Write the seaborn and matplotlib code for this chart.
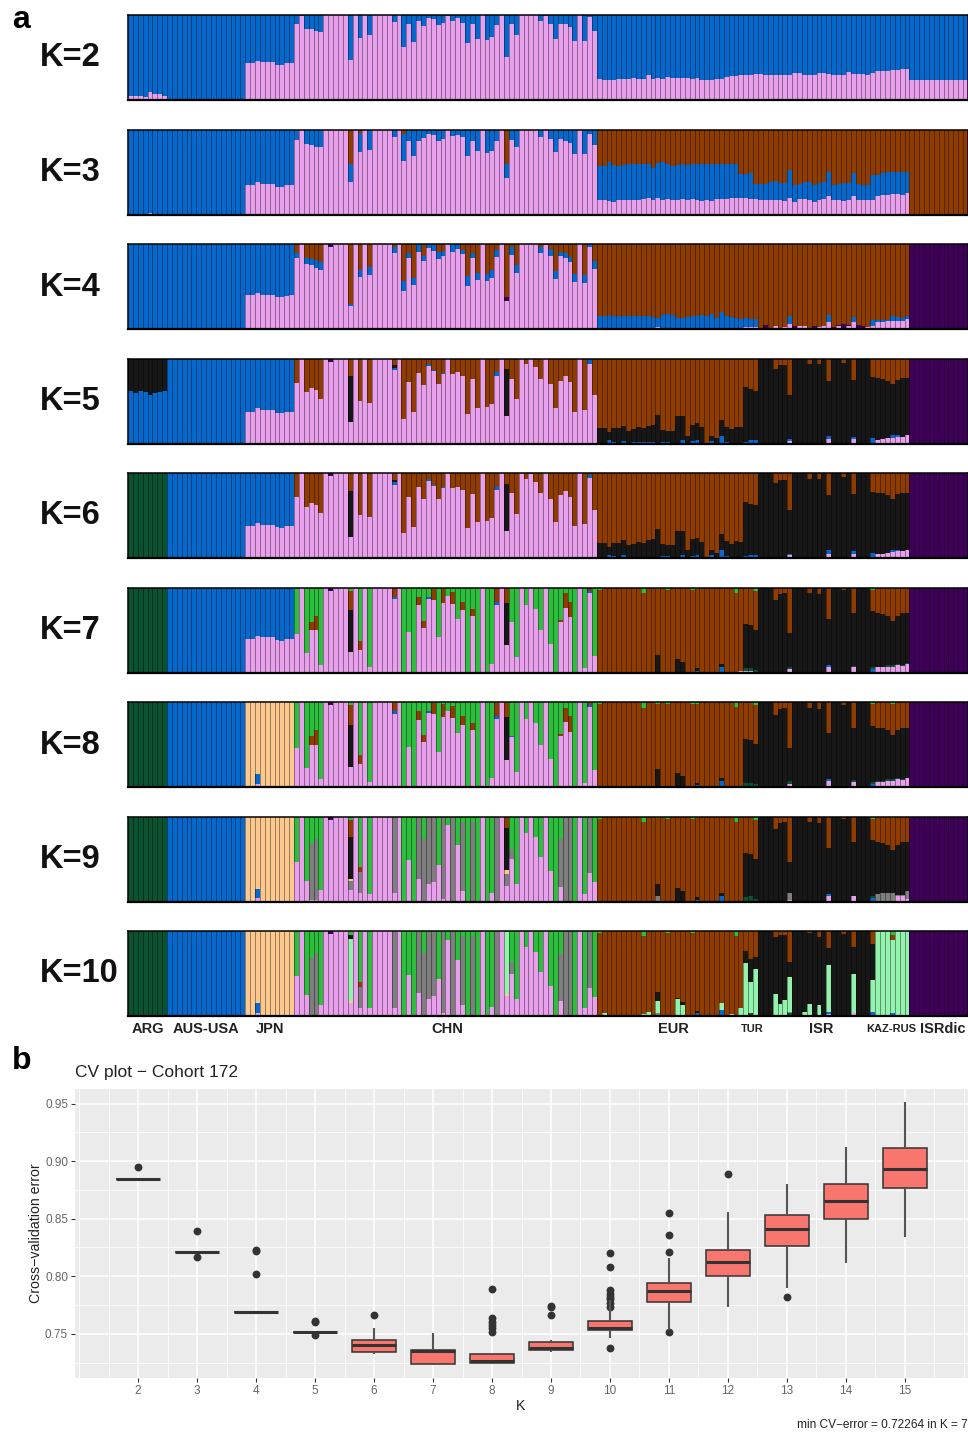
import numpy as np
import pandas as pd
import matplotlib
matplotlib.use('Agg')
import matplotlib.pyplot as plt
import seaborn as sns

plt.rcParams['font.family'] = ['Liberation Sans', 'DejaVu Sans']

W, H = 968, 1433

# stack order from the bottom of a bar to its top
clusters = ['pink', 'blue', 'dkgreen', 'gray', 'orange', 'ltgreen', 'black', 'purple', 'brown', 'green']
colors = {'pink': '#E8A0EC', 'blue': '#0468CC', 'dkgreen': '#0A5230', 'gray': '#7E7E7E',
          'orange': '#FCC88E', 'ltgreen': '#93F2AE', 'black': '#171717', 'purple': '#40005A',
          'brown': '#8F3C00', 'green': '#2CBE3C'}

group_sizes = [8, 16, 10, 62, 64, 12]
group_labels = ['ARG', 'AUS-USA', 'JPN', 'CHN', 'EUR', 'TUR', 'ISR', 'KAZ-RUS', 'ISRdic']

# every array below holds the TOP of a coloured segment in a bar.
# a dict only lists the bars where that segment shows up
k2_arg_pink = [.05, .05, .05, .04, .09, .07, .07, .05]
k2_jpn_pink = [.44, .44, .46, .45, .45, .45, .41, .41, .43, .44]
k2_chn_pink = [.90, .99, .84, .83, .81, .80, 1, 1, 1, 1,
               1, .47, 1, .73, 1, .76, 1, 1, 1, 1,
               .92, 1, .62, .89, .68, .93, .87, .97, .95, .88,
               .91, .99, .93, .97, .91, .67, .89, .72, 1, .71,
               .74, .88, 1, .51, .90, .77, 1, 1, 1, 1,
               .93, .99, .90, .72, .90, .89, .86, .70, 1, .70, .98, .81]
k2_eur_pink = [.25, .24, .24, .24, .25, .25, .25, .26, .25, .25,
               .30, .25, .26, .25, .27, .26, .26, .26, .26, .25,
               .26, .24, .24, .23, .25, .25, .27, .28, .28, .29,
               .29, .30, .31, .31, .30, .30, .29, .30, .30, .29,
               .32, .32, .29, .29, .30, .32, .32, .31, .30, .30,
               .30, .33, .31, .31, .31, .29, .32, .34, .34, .34,
               .35, .35, .36, .36]
k2_dic_pink = [.24] * 12

k3_arg_pink = {4: .02, 5: .01}
k3_jpn_pink = [.35, .35, .385, .36, .36, .36, .325, .325, .345, .35]
k3_chn_pink = [.88, 1, .83, .82, .80, .79, 1, 1, 1, 1,
               1, .385, 1, .73, 1, .76, 1, 1, 1, 1,
               .91, 1, .63, .87, .69, .86, .905, .945, .93, .86,
               .89, .99, .92, .94, .91, .69, .86, .75, 1, .72,
               .75, .87, 1, .43, .88, .79, 1, 1, 1, 1,
               .91, 1, .89, .73, .89, .87, .84, .71, 1, .71, .95, .82]
k3_chn_brown_from = {11: .60, 13: .96, 22: .95, 24: .98, 35: .99, 39: .99, 40: .98, 41: .99,
                     43: .60, 55: .99, 56: .99, 57: .99}
k3_eur_pink = [.17, .17, .16, .15, .17, .17, .17, .17, .17, .18,
               .20, .17, .19, .17, .18, .17, .17, .18, .17, .18,
               .17, .16, .17, .16, .18, .18, .18, .19, .20, .20,
               .19, .18, .18, .17, .17, .17, .17, .17, .16, .20,
               .15, .18, .18, .17, .15, .17, .18, .22, .17, .17,
               .16, .17, .22, .17, .17, .17, .17, .22, .23, .23,
               .24, .24, .23, .25]
k3_eur_blue = [.575, .575, .62, .58, .57, .585, .595, .595, .595, .595,
               .59, .55, .61, .62, .595, .57, .585, .60, .585, .595,
               .60, .60, .60, .60, .595, .595, .59, .595, .595, .48,
               .48, .49, .36, .36, .36, .38, .40, .375, .375, .52,
               .345, .36, .38, .385, .35, .375, .38, .505, .35, .36,
               .375, .375, .49, .36, .35, .35, .47, .47, .49, .50,
               .50, .50, .495, .495]

k4_jpn_pink = [.40, .40, .42, .40, .40, .40, .38, .38, .39, .40]
k4_chn_pink = [.83, 1, .76, .75, .72, .69, 1, .97, 1, 1,
               1, .27, 1, .61, 1, .64, 1, 1, 1, 1,
               .90, 1, .45, .83, .52, .91, .80, .95, .92, .82,
               .86, 1, .91, .94, .88, .51, .84, .58, 1, .565,
               .605, .85, 1, .335, .87, .66, 1, 1, 1, 1,
               .90, .99, .86, .585, .86, .84, .79, .55, 1, .545, .97, .71]
k4_chn_blue = [.89, 1, .84, .82, .81, .79, 1, .97, 1, 1,
               1, .30, 1, .69, 1, .73, 1, 1, 1, 1,
               .96, 1, .565, .89, .60, 1, .86, 1, .99, .91,
               .92, 1, 1, 1, .93, .62, .90, .66, 1, .645,
               .69, .93, 1, .335, .96, .75, 1, 1, 1, 1,
               .97, .99, .94, .68, .91, .89, .85, .65, 1, .64, 1, .80]
k4_chn_purple = {7: 1, 43: .38}
k4_eur_pink = {12: .02, 30: .02, 31: .02, 32: .02, 36: .03, 38: .02, 39: .06, 41: .03, 42: .04,
               45: .02, 46: .03, 47: .08, 49: .03, 51: .03, 52: .08, 55: .02, 56: .03, 57: .08,
               58: .08, 59: .09, 60: .10, 61: .10, 62: .10, 63: .12}
k4_eur_blue = [.15, .15, .17, .15, .15, .15, .15, .15, .15, .15,
               .15, .14, .13, .16, .18, .17, .13, .13, .14, .155,
               .155, .16, .15, .18, .13, .20, .15, .14, .13, .12,
               .13, .12, .12, 0, 0, 0, 0, 0, 0, .15,
               0, 0, 0, 0, 0, 0, 0, .16, 0, 0,
               0, 0, .14, 0, 0, 0, .11, .11, .11, .11,
               .15, .14, .13, .15]
k4_eur_purple = {34: .05, 35: .01, 40: .04, 44: .03, 48: .02, 49: .05, 50: .06, 51: .05, 53: .05, 54: .03}

k5_arg_blue = [.615, .60, .62, .61, .57, .59, .61, .615]
k5_jpn_pink = [.375, .375, .415, .39, .39, .39, .36, .355, .375, .375]
k5_chn_pink = [.715, 1, .605, .65, .625, .525, 1, .96, 1, 1,
               1, .25, 1, .505, 1, .48, 1, 1, 1, 1,
               .86, 1, .29, .72, .37, .83, .69, .91, .85, .70,
               .82, 1, .82, .84, .80, .35, .755, .42, 1, .43,
               .465, .80, 1, .32, .76, .52, 1, .93, .99, .90,
               .76, 1, .70, .42, .74, .79, .72, .375, 1, .395, .94, .57]
k5_chn_blue = {20: .89, 27: .93, 28: .86, 30: .83, 41: .84, 60: .98}
k5_chn_black = {11: .79, 20: .92, 43: .875}
k5_chn_purple = {7: 1}
k5_eur_pink = {39: .03, 47: .05, 52: .05, 57: .045, 58: .05, 59: .06, 60: .07, 61: .08, 62: .08, 63: .10}
k5_eur_blue = {2: .04, 3: .02, 5: .03, 7: .015, 8: .015, 9: .015, 10: .015, 11: .015, 13: .02, 14: .02,
               17: .04, 19: .025, 20: .04, 23: .03, 25: .09, 26: .02, 30: .02, 31: .04, 32: .04,
               39: .05, 47: .09, 52: .08, 56: .06, 60: .10, 61: .10}
k5_eur_black = [.18, .18, .13, .18, .18, .21, .15, .17, .19, .18,
                .21, .22, .34, .16, .15, .15, .32, .32, .09, .22,
                .24, .19, 0, .09, .06, .28, .20, .17, .20, .19,
                .66, .64, .62, 1, 1, 1, .88, .92, .92, .57,
                1, 1, 1, .93, 1, .93, 1, .74, 1, 1,
                .95, 1, .75, 1, 1, 1, .78, .77, .76, .74,
                .70, .75, .77, .77]

k7_jpn_pink = [.40, .40, .435, .415, .415, .415, .38, .37, .39, .40]
k7_chn_pink = [.455, 1, .225, .50, .50, .09, 1, .96, 1, 1,
               1, .24, 1, .27, 1, .06, 1, 1, 1, 1,
               .86, 1, 0, .475, 0, .79, .525, .87, .855, .415,
               .82, .90, .81, .63, .73, 0, .665, .01, 1, .01,
               .10, .80, 1, .32, .59, .18, 1, .80, 1, .75,
               .50, 1, .335, 0, .60, .76, .65, 0, 1, .05, .94, .20]
k7_chn_blue = {20: .89, 27: .89, 41: .83, 44: .60, 60: .96}
k7_chn_black = {11: .73, 43: .82}
k7_chn_brown = {3: .60, 4: .67, 11: .96, 13: .375, 20: .99, 25: .89, 26: .61, 28: .985, 30: .98,
                32: .95, 34: .83, 36: .75, 41: .99, 43: .99, 54: .62, 55: .93, 56: .83, 60: .99}
k7_eur_pink = {12: .01, 29: .015, 30: .015, 31: .015, 39: .04, 47: .07, 52: .06, 57: .06, 58: .06,
               59: .07, 60: .07, 61: .09, 62: .08, 63: .10}
k7_eur_blue = {20: .02, 25: .07, 47: .09, 56: .04}
k7_eur_dkgreen = {30: .05, 31: .05, 32: .03, 39: .07, 52: .08, 56: .06, 57: .07, 58: .07, 59: .09,
                  60: .09, 61: .10, 62: .09, 63: .11}
k7_eur_black = [0] * 12 + [.21] + [0] * 3 + [.16, .125, 0, 0, .05, 0, 0, 0, 0, .10, 0, 0, 0, 0] + [
    .565, .555, .505, 1, 1, 1, .85, .92, .93, .46,
    1, 1, 1, .93, 1, .92, 1, .63, 1, 1,
    .97, 1, .70, 1, 1, 1, .72, .70, .69, .67,
    .61, .67, .70, .70]
k7_eur_brown = [.975, 1, 1, 1, 1, 1, 1, 1, 1, .935,
                1, 1, .98, 1, .975, 1, 1, 1, 1, .975,
                .98, 1, 1, 1, 1, 1, 1, 1, .94, 1,
                1, 1, .96, 1, 1, 1, 1, 1, 1, 1,
                1, 1, 1, 1, 1, 1, 1, 1, 1, 1,
                1, 1, 1, 1, 1, 1, .975, 1, 1, 1,
                .98, 1, 1, 1]

k8_jpn_pink = {2: .04}
k8_jpn_blue = {2: .15}

k9_chn_pink = [.47, 1, .245, .015, .015, .13, 1, .96, 1, 1,
               1, .14, 1, .095, 1, .09, 1, 1, 1, 1,
               .095, 1, 0, .485, 0, .265, .01, .205, .235, .435,
               .03, .90, 0, .66, .125, 0, 0, 0, 1, 0,
               .105, 0, 1, .185, .50, .205, 1, .81, 1, .755,
               .52, 1, .355, 0, .175, 0, 0, 0, 1, .09, .335, .225]
k9_chn_gray = {3: .68, 4: .74, 11: .245, 13: .345, 20: .99, 25: .99, 26: .74, 27: .99, 28: .99, 30: .99,
               32: .99, 34: .94, 36: .94, 41: .99, 43: .325, 44: .62, 54: .73, 55: .99, 56: .99, 60: .99}
k9_chn_orange = {11: .265, 43: .365}
k9_chn_black = {11: .76, 43: .86}
k9_chn_brown = {11: .96, 13: .405, 43: .99}
k9_eur_pink = {39: .02, 47: .06, 52: .06, 61: .06, 62: .07, 63: .03}
k9_eur_dkgreen = {30: .05, 31: .06, 32: .03, 56: .07}
k9_eur_gray = {12: .06, 39: .10, 47: .09, 57: .09, 58: .10, 59: .10, 60: .10, 61: .08, 62: .08, 63: .12}

k10_chn_pink = k9_chn_pink[:11] + [.15] + k9_chn_pink[12:43] + [.23] + k9_chn_pink[44:]
k10_chn_gray = {3: .68, 4: .74, 13: .345, 20: .99, 25: .99, 26: .74, 27: .99, 28: .99, 30: .99,
                32: .99, 34: .94, 36: .94, 41: .99, 44: .63, 54: .73, 55: .99, 56: .99, 60: .99}
k10_chn_orange = {11: .18, 43: .26}
k10_chn_ltgreen = {11: .91, 43: .985}
k10_chn_black = {11: .95}
k10_chn_brown = {13: .405}
k10_eur_pink = {47: .02, 52: .03}
k10_eur_blue = {20: .03, 25: .07, 47: .05, 56: .05, 60: .04}
k10_eur_dkgreen = {31: .04, 39: .03}
k10_eur_gray = {12: .03, 39: .05}
k10_eur_ltgreen = {1: .03, 9: .025, 10: .05, 12: .18, 16: .20, 17: .13, 25: .15, 27: .02, 29: .09, 30: .62,
                   31: .405, 32: .55, 36: .26, 37: .14, 38: .19, 39: .46, 42: .05, 43: .14, 45: .13,
                   47: .60, 52: .50, 56: .42, 57: 1, 58: 1, 59: 1, 60: .89, 61: 1, 62: 1, 63: 1}
k10_eur_black = [0] * 12 + [.28] + [0] * 3 + [.21, .17, 0, 0, .06] + [0] * 9 + [
    .77, .665, .69, 1, 1, 1, .93, .95, .95, .63,
    1, 1, 1, .98, 1, .93, 1, .80, 1, 1,
    .97, 1, .81, 1, 1, 1, .845, 0, 0, 0,
    0, 0, 0, 0]
k10_eur_brown = [.98, 1, 1, 1, 1, 1, 1, 1, 1, .94,
                 1, 1, 1, 1, .98, 1, 1, 1, 1, .98,
                 1, 1, 1, 1, 1, 1, 1, 1, .94, 1,
                 1, 1, 1, 1, 1, 1, 1, 1, 1, 1,
                 1, 1, 1, 1, 1, 1, 1, 1, 1, 1,
                 1, 1, 1, 1, 1, 1, 1, 1, 1, 1,
                 .95, 1, 1, 1]

# panel b
cv_k = [2, 3, 4, 5, 6, 7, 8, 9, 10, 11, 12, 13, 14, 15]
cv_low = [.8845, .8213, .7688, .752, .7326, .723, .724, .7345, .746, .7535, .773, .790, .8115, .834]
cv_q1 = [.8845, .8213, .7688, .752, .734, .724, .725, .736, .7535, .778, .800, .826, .850, .8767]
cv_median = [.8845, .8213, .7688, .752, .7407, .735, .7265, .7375, .755, .787, .812, .841, .865, .8935]
cv_q3 = [.8845, .8213, .7688, .752, .7445, .736, .7326, .743, .761, .794, .823, .853, .880, .911]
cv_high = [.8845, .8213, .7688, .752, .755, .751, .7326, .745, .7796, .816, .8555, .880, .912, .951]
flier_k = [2, 3, 3, 4, 4, 4, 5, 5, 5, 6, 8, 8, 8, 8, 8, 8, 9, 9, 9,
           10, 10, 10, 10, 10, 10, 10, 10, 10, 11, 11, 11, 11, 12, 13]
flier_cv = [.895, .839, .8167, .823, .822, .8016, .7616, .760, .7486, .766, .789, .7636, .7607, .758, .755, .752,
            .774, .7735, .766, .820, .808, .788, .785, .782, .780, .777, .773, .738, .855, .836, .821, .752, .889, .782]
cv_y_ticks = [.75, .80, .85, .90, .95]


def segment_shares(n, layers):
    # turns the segment tops of one group into one share per bar and cluster
    current = np.zeros(n)
    out = {}
    for cluster, tops in layers:
        new = current.copy()
        if isinstance(tops, dict):
            for i, v in tops.items():
                new[i] = max(new[i], v)
        else:
            new = np.maximum(current, np.broadcast_to(np.array(tops, dtype=float), (n,)))
        out[cluster] = new - current
        current = new
    return out


def panel_frame(groups):
    rows = []
    start = 0
    for n, layers in zip(group_sizes, groups):
        for cluster, share in segment_shares(n, layers).items():
            rows.append(pd.DataFrame({'sample': start + np.arange(n), 'cluster': cluster, 'share': share}))
        start += n
    df = pd.concat(rows)
    return df[df['share'] > 0]


def px_axes(fig, left, top, right, bottom):
    return fig.add_axes([left / W, 1 - bottom / H, (right - left) / W, (bottom - top) / H])


def px_text(fig, x, y, s, **kw):
    kw.setdefault('va', 'center')
    fig.text(x / W, 1 - y / H, s, **kw)


aus = [('blue', 1)]
panels = {
    2: [[('pink', k2_arg_pink), ('blue', 1)], aus, [('pink', k2_jpn_pink), ('blue', 1)],
        [('pink', k2_chn_pink), ('blue', 1)], [('pink', k2_eur_pink), ('blue', 1)],
        [('pink', k2_dic_pink), ('blue', 1)]],
    3: [[('pink', k3_arg_pink), ('blue', 1)], aus, [('pink', k3_jpn_pink), ('blue', 1)],
        [('pink', k3_chn_pink),
         ('blue', [k3_chn_brown_from.get(i, 1) for i in range(62)]), ('brown', 1)],
        [('pink', k3_eur_pink), ('blue', k3_eur_blue), ('brown', 1)], [('brown', 1)]],
    4: [aus, aus, [('pink', k4_jpn_pink), ('blue', 1)],
        [('pink', k4_chn_pink), ('blue', k4_chn_blue), ('purple', k4_chn_purple), ('brown', 1)],
        [('pink', k4_eur_pink), ('blue', k4_eur_blue), ('purple', k4_eur_purple), ('brown', 1)],
        [('purple', 1)]],
    5: [[('blue', k5_arg_blue), ('black', 1)], aus, [('pink', k5_jpn_pink), ('blue', 1)],
        [('pink', k5_chn_pink), ('blue', k5_chn_blue), ('black', k5_chn_black),
         ('purple', k5_chn_purple), ('brown', 1)],
        [('pink', k5_eur_pink), ('blue', k5_eur_blue), ('black', k5_eur_black), ('brown', 1)],
        [('purple', 1)]],
}
panels[6] = [[('dkgreen', 1)]] + panels[5][1:]
chn7 = [('pink', k7_chn_pink), ('blue', k7_chn_blue), ('black', k7_chn_black), ('purple', k5_chn_purple),
        ('brown', k7_chn_brown), ('green', 1)]
eur7 = [('pink', k7_eur_pink), ('blue', k7_eur_blue), ('dkgreen', k7_eur_dkgreen), ('black', k7_eur_black),
        ('brown', k7_eur_brown), ('green', 1)]
jpn8 = [('pink', k8_jpn_pink), ('blue', k8_jpn_blue), ('orange', 1)]
panels[7] = [[('dkgreen', 1)], aus, [('pink', k7_jpn_pink), ('blue', 1)], chn7, eur7, [('purple', 1)]]
panels[8] = [[('dkgreen', 1)], aus, jpn8, chn7, eur7, [('purple', 1)]]
panels[9] = [[('dkgreen', 1)], aus, jpn8,
             [('pink', k9_chn_pink), ('gray', k9_chn_gray), ('orange', k9_chn_orange), ('black', k9_chn_black),
              ('purple', k5_chn_purple), ('brown', k9_chn_brown), ('green', 1)],
             [('pink', k9_eur_pink), ('blue', k7_eur_blue), ('dkgreen', k9_eur_dkgreen), ('gray', k9_eur_gray),
              ('black', k7_eur_black), ('brown', k7_eur_brown), ('green', 1)],
             [('purple', 1)]]
panels[10] = [[('dkgreen', 1)], aus, jpn8,
              [('pink', k10_chn_pink), ('gray', k10_chn_gray), ('orange', k10_chn_orange),
               ('ltgreen', k10_chn_ltgreen), ('black', k10_chn_black), ('purple', k5_chn_purple),
               ('brown', k10_chn_brown), ('green', 1)],
              [('pink', k10_eur_pink), ('blue', k10_eur_blue), ('dkgreen', k10_eur_dkgreen), ('gray', k10_eur_gray),
               ('ltgreen', k10_eur_ltgreen), ('black', k10_eur_black), ('brown', k10_eur_brown), ('green', 1)],
              [('purple', 1)]]

fig = plt.figure(figsize=(W / 100, H / 100), dpi=100)

panel_tops = [15, 129.5, 244, 358.5, 473, 587.5, 702, 816.5, 931]
n_samples = sum(group_sizes)
for (k, groups), top in zip(panels.items(), panel_tops):
    ax = px_axes(fig, 128, top, 968, top + 85)
    df = panel_frame(groups)
    present = [c for c in clusters if c in set(df['cluster'])]
    sns.histplot(data=df, x='sample', weights='share', hue='cluster', hue_order=present[::-1],
                 multiple='stack', discrete=True, shrink=1, palette=colors, linewidth=0,
                 alpha=1, legend=False, ax=ax)
    ax.vlines(np.arange(n_samples - 1) + .5, 0, 1, color='black', alpha=.45, lw=.6)
    ax.set_xlim(-.5, n_samples - .5)
    ax.set_ylim(0, 1)
    ax.set_xticks([])
    ax.set_yticks([])
    ax.set_xlabel('')
    ax.set_ylabel('')
    for side in ax.spines:
        ax.spines[side].set_linewidth(1.1)
    ax.spines['bottom'].set_linewidth(1.6)
    px_text(fig, 40, top + 43, f'K={k}', fontsize=23.5, fontweight='bold', color='#111111')

label_x = [148, 206, 270, 447, 673, 752, 821, 891, 943]
label_size = [10.5, 10.5, 10.5, 10.5, 10.5, 8, 10.5, 8, 10.5]
for s, x, size in zip(group_labels, label_x, label_size):
    px_text(fig, x, 1029, s, ha='center', fontsize=size, fontweight='bold', color='#222222')

px_text(fig, 12, 20, 'a', fontsize=23, fontweight='bold', color='black', ha='left')
px_text(fig, 12, 1061, 'b', fontsize=23, fontweight='bold', color='black', ha='left')

# panel b
ax = px_axes(fig, 75, 1089, 968, 1378)
ax.set_facecolor('#EBEBEB')
cv = pd.DataFrame({'K': np.repeat(cv_k, 5),
                   'cv': np.ravel(np.column_stack([cv_low, cv_q1, cv_median, cv_q3, cv_high]))})
sns.boxplot(data=cv, x='K', y='cv', native_scale=True, width=.75, whis=(0, 100), showfliers=False,
            showcaps=False, color='#F8766D', saturation=1, linecolor='#333333', linewidth=1.1,
            medianprops={'linewidth': 2.2, 'color': '#333333'},
            whiskerprops={'linewidth': 1.5, 'color': '#555555'}, ax=ax)
sns.scatterplot(x=flier_k, y=flier_cv, color='#333333', s=32, linewidth=0, legend=False, ax=ax)
ax.set_xlim(.93, 16.07)
ax.set_ylim(.7117, .9626)
ax.set_xticks(cv_k)
ax.set_xticklabels([str(k) for k in cv_k])
ax.set_yticks(cv_y_ticks)
ax.set_yticklabels([f'{v:.2f}' for v in cv_y_ticks])
ax.set_xticks([1] + [k + .5 for k in range(1, 16)] + [16], minor=True)
ax.set_yticks([.725, .775, .825, .875, .925], minor=True)
ax.grid(which='major', color='white', lw=1.1)
ax.grid(which='minor', color='white', lw=.55)
ax.set_axisbelow(True)
ax.tick_params(which='major', length=3, width=.8, color='#333333', labelcolor='#666666', labelsize=8.5, pad=2)
ax.tick_params(which='minor', length=0)
for side in ax.spines:
    ax.spines[side].set_visible(False)
ax.set_xlabel('')
ax.set_ylabel('')
px_text(fig, 75, 1072, 'CV plot \u2212 Cohort 172', fontsize=12.5, color='#222222', ha='left')
px_text(fig, 36, 1233, 'Cross\u2212validation error', fontsize=10.2, color='#222222', rotation=90,
        ha='center')
px_text(fig, 521, 1406, 'K', fontsize=10.2, color='#222222', ha='center')
px_text(fig, 968, 1425.5, 'min CV\u2212error = 0.72264 in K = 7', fontsize=8.55, color='#222222', ha='right')

fig.savefig('out.png', dpi=100)
